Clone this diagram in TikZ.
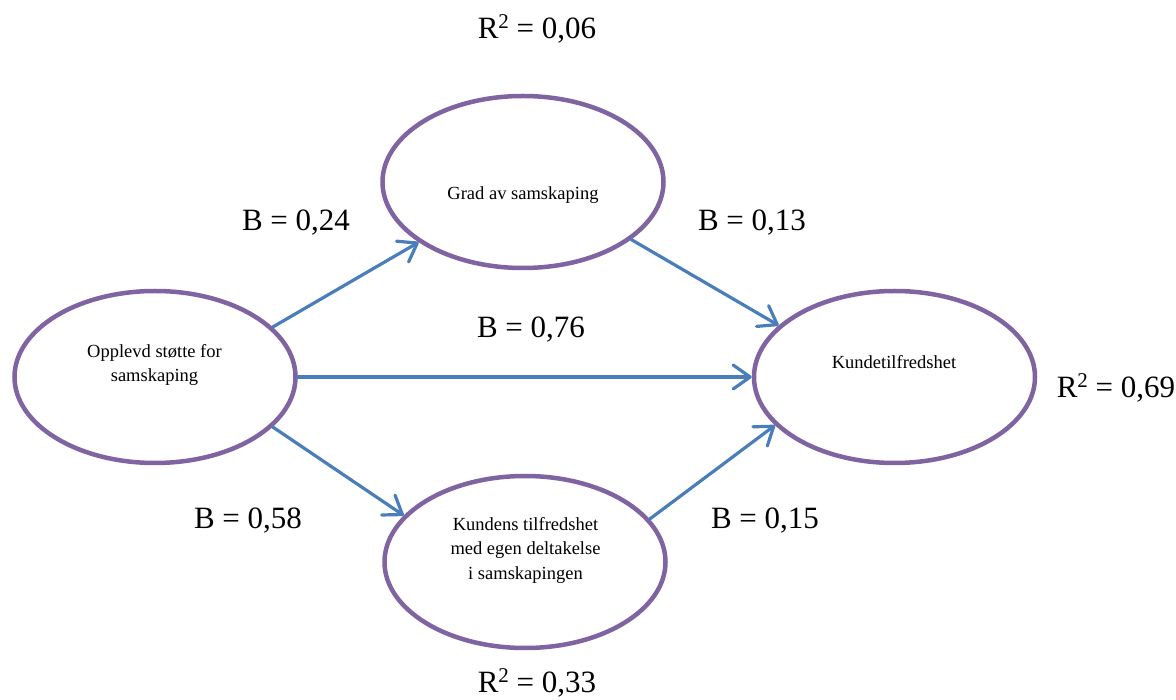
\documentclass[tikz,border=0pt]{standalone}
\usepackage{fontspec}
\setmainfont{Liberation Serif}
\usetikzlibrary{shapes.geometric,arrows.meta}
\definecolor{lilla}{HTML}{8064A2}
\definecolor{blaa}{HTML}{4A7EBB}
\newcommand{\rto}{R\raisebox{10pt}{\fontsize{21}{21}\selectfont 2}}
\tikzset{
  konstrukt/.style={ellipse,draw=lilla,line width=4.5pt,minimum width=281pt,minimum height=172pt,inner sep=0pt},
  tekst/.style={align=center,font=\fontsize{18.5}{24.4}\selectfont,anchor=base},
  pil/.style={draw=blaa,line width=3.2pt,line cap=round,line join=round,-{Straight Barb[length=17pt,width=24pt,round]}},
  koeff/.style={font=\fontsize{31}{37}\selectfont,anchor=base}
}
\begin{document}
\begin{tikzpicture}[x=1pt,y=-1pt]
\useasboundingbox (0,0) rectangle (1176,700);
\node[konstrukt] (opplevd) at (155,377) {}; %1
\node[konstrukt] (grad) at (523,182) {}; %2
\node[konstrukt] (deltakelse) at (525,562) {}; %3
\node[konstrukt] (kunde) at (894.5,377) {}; %4
\node[tekst] (tOpplevd) at (154.5,381.7) {Opplevd støtte for\\samskaping};
\node[tekst] (tGrad) at (523,200) {Grad av samskaping};
\node[tekst] (tDeltakelse) at (525.5,579) {Kundens tilfredshet\\med egen deltakelse\\i samskapingen};
\node[tekst] (tKunde) at (894,368.3) {Kundetilfredshet};
\draw[pil] (opplevd.23) -- (grad.210);
\draw[pil] (grad.332) -- (kunde.156);
\draw[pil] (opplevd.east) -- (opplevd.east -| kunde.west);
\draw[pil] (opplevd.337) -- (deltakelse.159);
\draw[pil] (deltakelse.19) -- (kunde.202);
\node[koeff] (bGrad) at (296,231) {B = 0,24};
\node[koeff] (bGradKunde) at (752,231) {B = 0,13};
\node[koeff] (bDirekte) at (531,338) {B = 0,76};
\node[koeff] (bDeltakelse) at (248,528) {B = 0,58};
\node[koeff] (bDeltakelseKunde) at (765,528) {B = 0,15};
\node[koeff] (rGrad) at (537,38.3) {\rto{} = 0,06};
\node[koeff] (rKunde) at (1116,397.3) {\rto{} = 0,69};
\node[koeff] (rDeltakelse) at (537,692) {\rto{} = 0,33};
\end{tikzpicture}
\end{document}
